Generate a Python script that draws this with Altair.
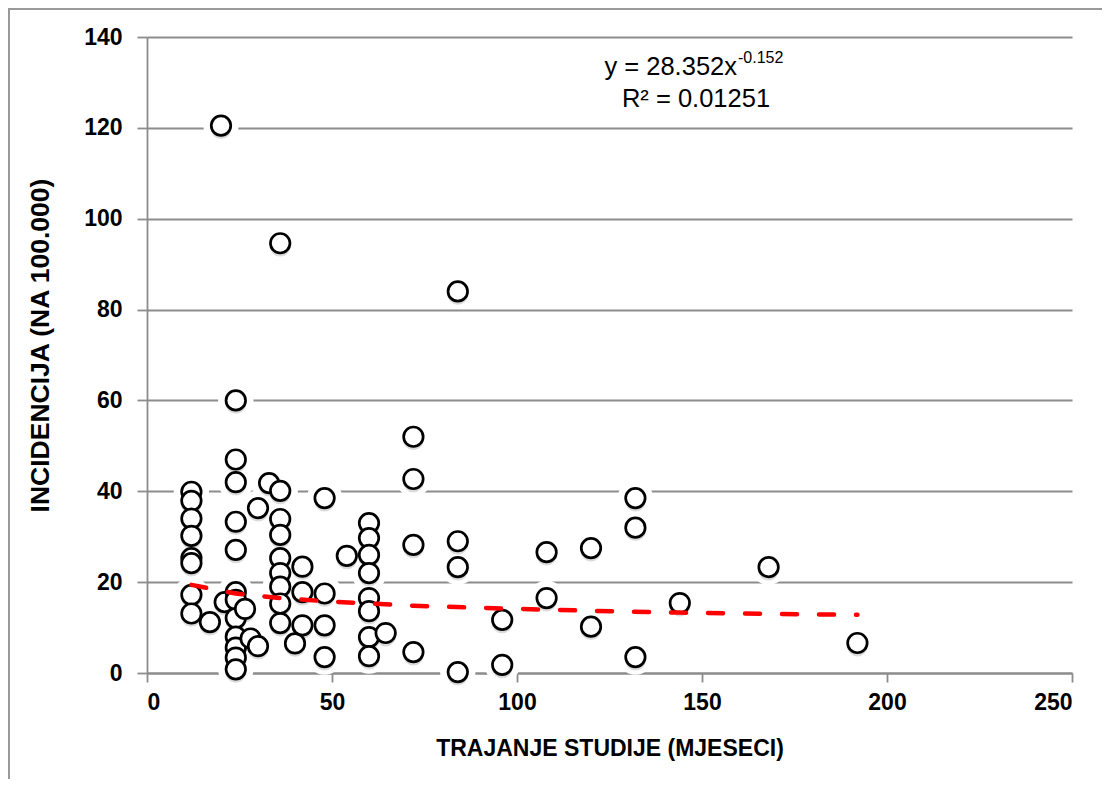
import altair as alt
import pandas as pd

# Study duration (months) and incidence (per 100,000)
months = [
    12, 12, 12, 12, 12, 12, 12, 12,
    17, 20, 21,
    24, 24, 24, 24, 24, 24, 24, 24, 24, 24, 24, 24,
    26.5, 28, 30, 30, 33,
    36, 36, 36, 36, 36, 36, 36, 36, 36,
    40, 42, 42, 42,
    48, 48, 48, 48, 54,
    60, 60, 60, 60, 60, 60, 60, 60, 64.5,
    72, 72, 72, 72,
    84, 84, 84, 84,
    96, 96, 108, 108, 120, 120,
    132, 132, 132, 144, 168, 192,
]
incidence = [
    39.9, 37.9, 34.0, 30.2, 25.3, 24.2, 17.2, 13.1,
    11.2, 120.5, 15.6,
    60.0, 47.0, 42.0, 33.3, 27.1, 17.8, 16.1, 12.1, 8.0, 5.6, 3.4, 0.8,
    14.1, 7.6, 5.9, 36.3, 41.8,
    94.6, 40.1, 33.9, 30.4, 25.3, 22.0, 19.0, 15.3, 11.0,
    6.5, 23.4, 17.8, 10.5,
    38.5, 17.5, 10.5, 3.5, 25.8,
    33.0, 29.7, 26.0, 22.0, 16.5, 13.6, 7.9, 3.7, 8.8,
    52.0, 42.7, 28.2, 4.6,
    84.0, 29.0, 23.3, 0.2,
    11.7, 1.8, 26.6, 16.5, 27.5, 10.2,
    38.5, 32.0, 3.5, 15.4, 23.3, 6.6,
]

# Power trendline (dashed red) read along its length
trend_months = [12, 24, 36, 48, 72, 96, 120, 144, 168, 192]
trend_values = [19.4, 17.5, 16.5, 15.8, 14.8, 14.2, 13.7, 13.3, 13.0, 12.8]

x_ticks = [0, 50, 100, 150, 200, 250]
y_ticks = [0, 20, 40, 60, 80, 100, 120, 140]

x_title = "TRAJANJE STUDIJE (MJESECI)"
y_title = "INCIDENCIJA (NA 100.000)"
eq_main = ["y = 28.352x"]
eq_exp = ["-0.152"]
eq_r2 = ["R² = 0.01251"]

df = pd.DataFrame({"mjeseci": months, "incidencija": incidence})
trend_df = pd.DataFrame({"mjeseci": trend_months, "incidencija": trend_values})

FONT = "Liberation Sans"
GRAY = "#8c8c8c"

x_scale = alt.Scale(domain=[0, 250], nice=False, zero=True)
y_scale = alt.Scale(domain=[0, 140], nice=False, zero=True)

x_axis = alt.Axis(
    values=x_ticks, grid=False,
    domainColor=GRAY, domainWidth=1.8,
    tickColor=GRAY, tickWidth=1.8, tickSize=9,
    labelFont=FONT, labelFontSize=23, labelFontWeight="bold", labelColor="black",
    labelPadding=9,
    title=x_title, titleFont=FONT, titleFontSize=23, titleFontWeight="bold",
    titleColor="black", titleY=75, titleBaseline="middle",
)
y_axis = alt.Axis(
    values=y_ticks, grid=True, gridColor=GRAY, gridWidth=1.8,
    domainColor=GRAY, domainWidth=1.8,
    tickColor=GRAY, tickWidth=1.8, tickSize=10,
    labelFont=FONT, labelFontSize=23, labelFontWeight="bold", labelColor="black",
    labelPadding=15,
    title=y_title, titleFont=FONT, titleFontSize=26.5, titleFontWeight="bold",
    titleColor="black", titleAngle=270, titleX=-107, titleY=308,
    titleBaseline="middle", titleAlign="center",
)

X = alt.X("mjeseci:Q", scale=x_scale, axis=x_axis)
Y = alt.Y("incidencija:Q", scale=y_scale, axis=y_axis)

base = alt.Chart(df)

halo = base.mark_point(shape="circle", filled=True, fill="white", stroke="white",
                       strokeWidth=0, size=1250, opacity=1).encode(x=X, y=Y)
shadow = base.mark_point(shape="circle", filled=True, fill="#bdbdbd", strokeWidth=0,
                         size=430, opacity=0.55, yOffset=3).encode(x=X, y=Y)
dots = base.mark_point(shape="circle", filled=True, fill="white", stroke="black",
                       strokeWidth=2.7, size=380, opacity=1).encode(x=X, y=Y)

trend = alt.Chart(trend_df).mark_line(
    color="#ff0000", strokeWidth=4.5, strokeDash=[15, 22], strokeCap="round"
).encode(x=X, y=Y)

t1 = alt.Chart(pd.DataFrame({"t": eq_main})).mark_text(
    font=FONT, fontSize=25.5, align="right", baseline="alphabetic", color="black"
).encode(x=alt.value(590), y=alt.value(38), text="t:N")
t2 = alt.Chart(pd.DataFrame({"t": eq_exp})).mark_text(
    font=FONT, fontSize=16, align="left", baseline="alphabetic", color="black"
).encode(x=alt.value(591), y=alt.value(26), text="t:N")
t3 = alt.Chart(pd.DataFrame({"t": eq_r2})).mark_text(
    font=FONT, fontSize=25.5, align="center", baseline="alphabetic", color="black"
).encode(x=alt.value(549), y=alt.value(70), text="t:N")

border = alt.Chart(pd.DataFrame({"t": [""]})).mark_rect(
    fill="transparent", stroke="#9a9a9a", strokeWidth=2
).encode(x=alt.value(-138), x2=alt.value(1200), y=alt.value(-28), y2=alt.value(900))

chart = alt.layer(halo, shadow, dots, trend, t1, t2, t3, border).properties(
    width=925, height=636,
    padding={"left": 139, "top": 29, "right": 30, "bottom": 106},
    autosize=alt.AutoSizeParams(type="none"),
).configure(background="white").configure_view(strokeWidth=0)

chart.save("out.html", embed_options={"renderer": "svg", "actions": False})
